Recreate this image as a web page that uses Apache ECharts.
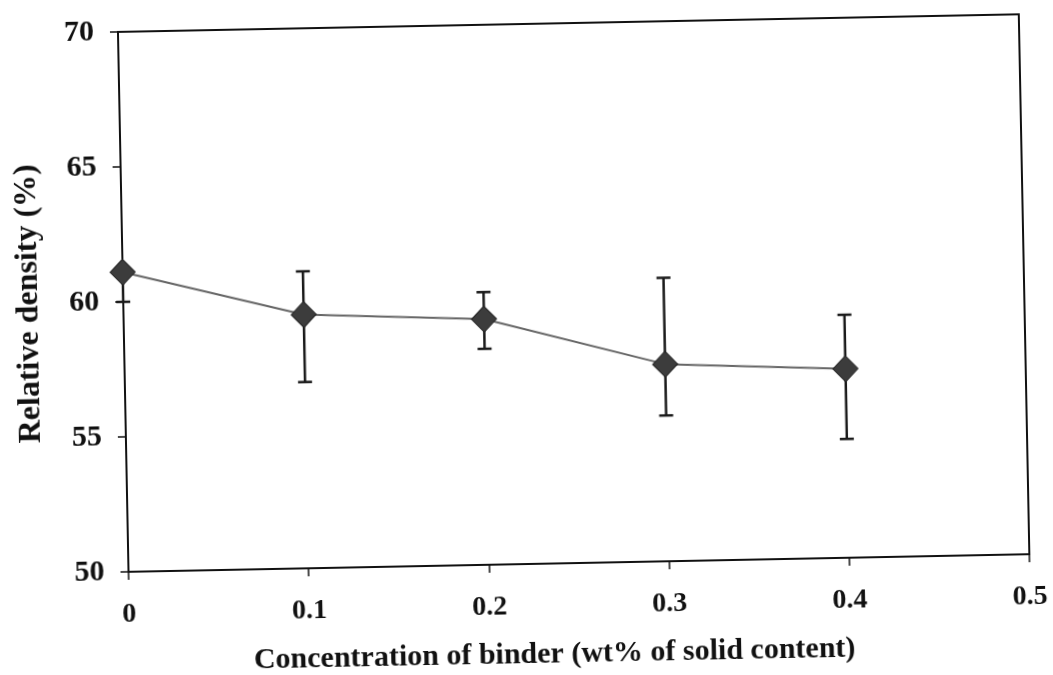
<!DOCTYPE html>
<html>
<head>
<meta charset="utf-8">
<script src="https://cdn.jsdelivr.net/npm/echarts@6/dist/echarts.min.js"></script>
<style>
html,body{margin:0;padding:0;background:#ffffff;}
#chart{width:1053px;height:675px;transform:rotate(-1.12deg);transform-origin:526px 337px;}
</style>
</head>
<body>
<div id="chart"></div>
<script>
// Data
var binderConc = [0, 0.1, 0.2, 0.3, 0.4];
var relDensity = [61.1, 59.4, 59.1, 57.3, 57.0];
var errLow = [60.0, 56.9, 58.0, 55.4, 54.4];
var errHigh = [61.1, 61.0, 60.1, 60.5, 59.0];
var xTicks = [0, 0.1, 0.2, 0.3, 0.4, 0.5];
var yTicks = [50, 55, 60, 65, 70];

var chart = echarts.init(document.getElementById('chart'));
var serif = '"Liberation Serif", "DejaVu Serif", serif';

var lineData = binderConc.map(function (x, i) { return [x, relDensity[i]]; });
var errData = binderConc.map(function (x, i) { return [x, errLow[i], errHigh[i]]; });

chart.setOption({
  backgroundColor: '#ffffff',
  animation: false,
  grid: {
    left: 124, top: 24, width: 901, height: 542,
    show: true, borderColor: '#111', borderWidth: 2, backgroundColor: 'transparent'
  },
  xAxis: {
    type: 'value', min: 0, max: 0.5, interval: 0.1,
    axisLine: { show: true, lineStyle: { color: '#111', width: 2 } },
    axisTick: { show: true, inside: false, length: 8, lineStyle: { color: '#111', width: 1.5 } },
    splitLine: { show: false },
    axisLabel: {
      margin: 29, fontFamily: serif, fontWeight: 'bold', fontSize: 28, color: '#111',
      formatter: function (v) { return String(Math.round(v * 10) / 10); }
    },
    name: 'Concentration of binder (wt% of solid content)',
    nameLocation: 'middle', nameGap: 76,
    nameTextStyle: { fontFamily: serif, fontWeight: 'bold', fontSize: 30, color: '#111', padding: [0, 52, 0, 0] }
  },
  yAxis: {
    type: 'value', min: 50, max: 70, interval: 5,
    axisLine: { show: true, lineStyle: { color: '#111', width: 2 } },
    axisTick: { show: true, inside: false, length: 8, lineStyle: { color: '#111', width: 1.5 } },
    splitLine: { show: false },
    axisLabel: { margin: 24, fontFamily: serif, fontWeight: 'bold', fontSize: 30, color: '#111' },
    name: 'Relative density (%)',
    nameLocation: 'middle', nameGap: 78, nameRotate: 90,
    nameTextStyle: { fontFamily: serif, fontWeight: 'bold', fontSize: 32, color: '#111' }
  },
  series: [
    {
      type: 'custom',
      z: 3,
      data: errData,
      renderItem: function (params, api) {
        var x = api.value(0);
        var lo = api.coord([x, api.value(1)]);
        var hi = api.coord([x, api.value(2)]);
        var cw = 7;
        var children = [
          { type: 'line', shape: { x1: lo[0], y1: lo[1], x2: hi[0], y2: hi[1] }, style: { stroke: '#1a1a1a', lineWidth: 2.5 } },
          { type: 'line', shape: { x1: lo[0] - cw, y1: lo[1], x2: lo[0] + cw, y2: lo[1] }, style: { stroke: '#1a1a1a', lineWidth: 2.5 } }
        ];
        if (hi[1] < lo[1] && Math.abs(hi[1] - api.coord([x, relDensity[params.dataIndex]])[1]) > 1) {
          children.push({ type: 'line', shape: { x1: hi[0] - cw, y1: hi[1], x2: hi[0] + cw, y2: hi[1] }, style: { stroke: '#1a1a1a', lineWidth: 2.5 } });
        }
        return { type: 'group', children: children };
      }
    },
    {
      type: 'line',
      z: 4,
      data: lineData,
      symbol: 'diamond',
      symbolSize: [25, 26],
      lineStyle: { color: '#666', width: 2 },
      itemStyle: { color: '#3c3c3c', borderColor: '#222', borderWidth: 1 }
    }
  ]
});
</script>
</body>
</html>
